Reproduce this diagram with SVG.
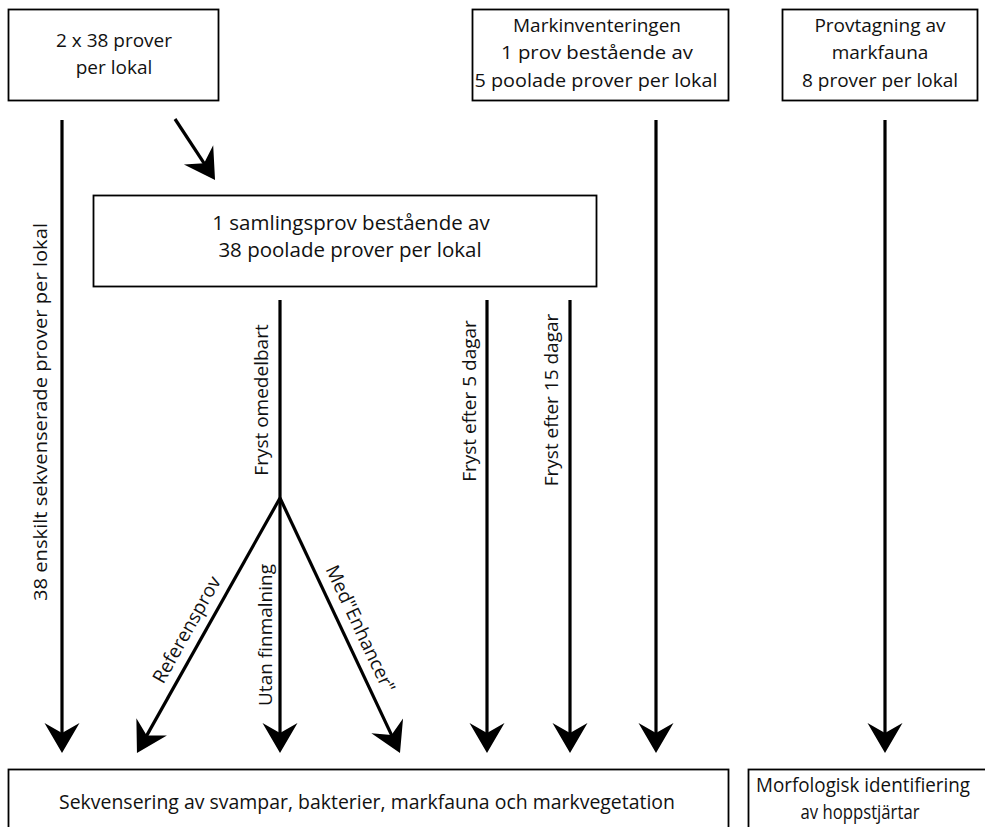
<svg xmlns="http://www.w3.org/2000/svg" width="985" height="827" viewBox="0 0 985 827">
<style>
.box{fill:#fff;stroke:#000;stroke-width:1.8}
.t{font-family:"Open Sans","Liberation Sans",sans-serif;font-size:19px;fill:#111;text-anchor:middle}
.c{font-family:"Open Sans","Liberation Sans",sans-serif;font-size:20.5px;fill:#111;text-anchor:middle}
.ln{stroke:#000;stroke-width:3.2;fill:none;marker-end:url(#ah)}
</style>
<defs>
<marker id="ah" viewBox="-16 -19 32 38" markerWidth="32" markerHeight="38" refX="0" refY="0" orient="auto" markerUnits="userSpaceOnUse" overflow="visible">
<path d="M15,0 L-15,-17.5 L-5,0 L-15,17.5 Z" fill="#000"/>
</marker>
</defs>
<rect width="985" height="827" fill="#fff"/>
<g id="n1"><rect class="box" x="8.5" y="9.5" width="210" height="91"/>
<text class="t" x="114" y="47">2 x 38 prover</text><text class="t" x="114" y="74">per lokal</text></g>
<g id="n2"><rect class="box" x="472.5" y="9.5" width="256" height="91"/>
<text class="t" x="597" y="32">Markinventeringen</text><text class="t" x="597" y="59" textLength="192" lengthAdjust="spacingAndGlyphs">1 prov bestående av</text><text class="t" x="596" y="87" textLength="243" lengthAdjust="spacingAndGlyphs">5 poolade prover per lokal</text></g>
<g id="n3"><rect class="box" x="782.5" y="9.5" width="195" height="91"/>
<text class="t" x="880" y="32">Provtagning av</text><text class="t" x="880" y="59">markfauna</text><text class="t" x="880" y="87">8 prover per lokal</text></g>
<g id="n4"><rect class="box" x="93.5" y="195.5" width="503" height="91"/>
<text class="t" x="351" y="230" style="font-size:20.5px">1 samlingsprov bestående av</text><text class="t" x="350" y="257" style="font-size:20.5px">38 poolade prover per lokal</text></g>
<g id="n5"><rect class="box" x="8.5" y="769.5" width="720" height="70"/>
<text class="c" x="367" y="809" textLength="616" lengthAdjust="spacingAndGlyphs">Sekvensering av svampar, bakterier, markfauna och markvegetation</text></g>
<g id="n6"><rect class="box" x="748.5" y="769.5" width="250" height="70"/>
<text class="c" x="863" y="792" textLength="214" lengthAdjust="spacingAndGlyphs">Morfologisk identifiering</text>
<text class="c" x="860" y="819" textLength="119" lengthAdjust="spacingAndGlyphs">av hoppstjärtar</text></g>
<g id="connectors">
<line class="ln" x1="62" y1="120" x2="62" y2="738"/>
<line class="ln" x1="175" y1="119" x2="206.8" y2="167.4"/>
<line class="ln" x1="656" y1="120" x2="656" y2="738"/>
<line class="ln" x1="885" y1="120" x2="885" y2="738"/>
<line stroke="#000" stroke-width="3.2" x1="280" y1="300" x2="280" y2="498"/>
<line class="ln" x1="280" y1="498" x2="280" y2="738"/>
<line class="ln" x1="280" y1="498" x2="144.3" y2="739.9"/>
<line class="ln" x1="280" y1="498" x2="393.6" y2="739.4"/>
<line class="ln" x1="487" y1="300" x2="487" y2="738"/>
<line class="ln" x1="570" y1="300" x2="570" y2="738"/>
<text class="t" transform="translate(41,412) rotate(-90)" y="6" textLength="378" lengthAdjust="spacingAndGlyphs">38 enskilt sekvenserade prover per lokal</text>
<text class="t" transform="translate(262,400) rotate(-90)" y="6">Fryst omedelbart</text>
<text class="t" transform="translate(266,635) rotate(-90)" y="6">Utan finmalning</text>
<text class="t" transform="translate(470,401) rotate(-90)" y="6">Fryst efter 5 dagar</text>
<text class="t" transform="translate(552,400) rotate(-90)" y="6">Fryst efter 15 dagar</text>
<text class="t" transform="translate(187,630) rotate(-60.7)" y="6">Referensprov</text>
<text class="t" transform="translate(360,629) rotate(64.8)" y="6">Med"Enhancer"</text>
</g>
</svg>
